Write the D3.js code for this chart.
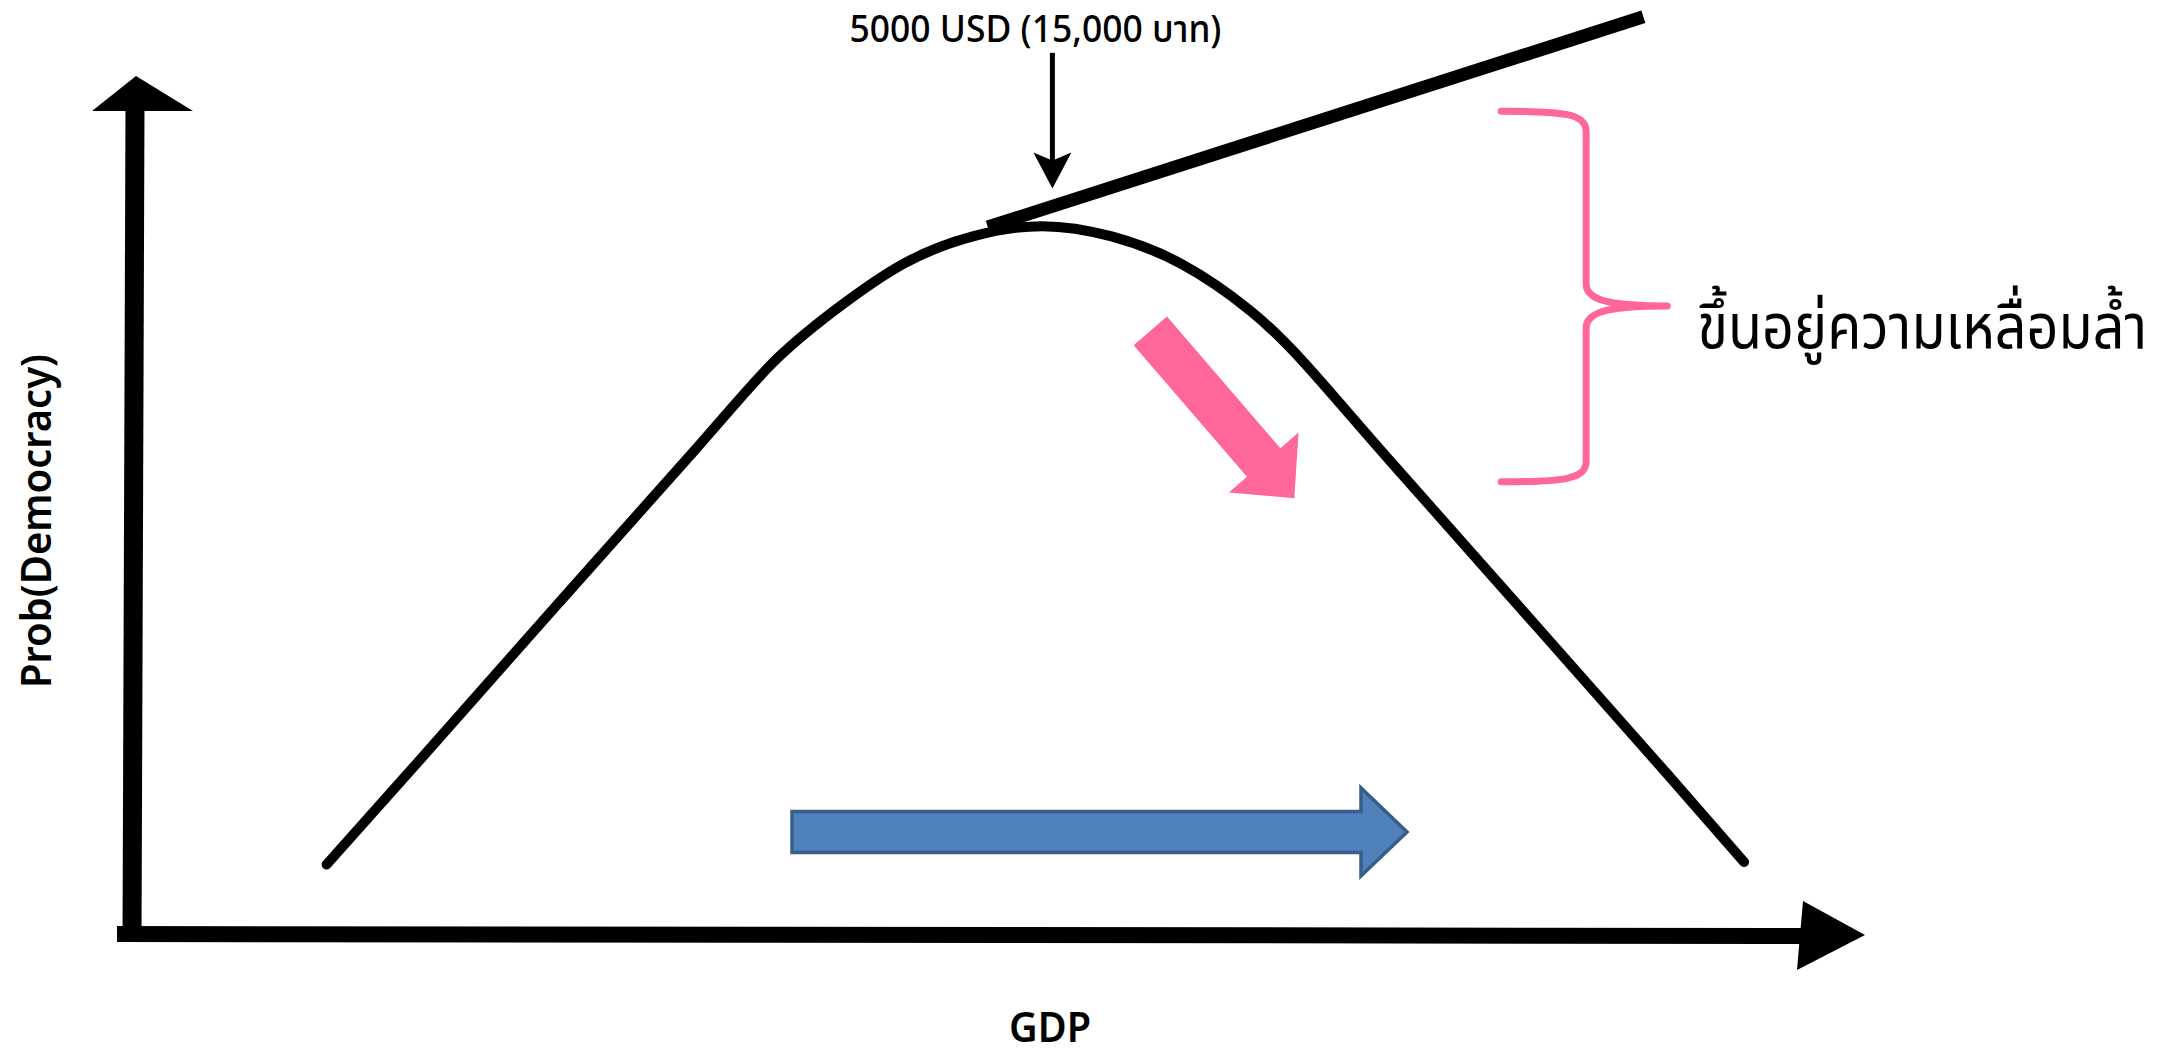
<!DOCTYPE html>
<html>
<head>
<meta charset="utf-8">
<script src="https://cdn.jsdelivr.net/npm/d3@7"></script>
<style>
  html, body { margin: 0; padding: 0; background: #ffffff; }
  svg { display: block; }
</style>
</head>
<body>
<svg id="chart" width="2179" height="1054"></svg>
<script>
// ---- data (GDP in thousand USD, probability of democracy) ----
const gdp  = [1.070, 1.559, 2.311, 3.064, 3.478, 3.816, 4.193, 4.569, 4.945, 5.321, 5.698, 6.074, 6.375, 6.826, 7.579, 8.331, 8.745];
const prob = [0.081, 0.199, 0.382, 0.564, 0.664, 0.726, 0.781, 0.813, 0.825, 0.813, 0.781, 0.726, 0.663, 0.552, 0.369, 0.186, 0.084];

// tangent line at the peak (gdp, prob)
const tangentGdp  = [4.65, 8.20];
const tangentProb = [0.824, 1.069];

// annotation anchors (gdp, prob)
const peakMarkerGdp = 5.0;
const peakMarkerProb = [1.027, 0.869];
const growthArrowGdp = [3.59, 6.92];
const growthArrowProb = 0.119;
const inequalityArrowGdp = [5.53, 6.31];
const inequalityArrowProb = [0.703, 0.508];
const braceGdp = [7.43, 7.89, 8.33];
const braceProb = [0.959, 0.732, 0.527];

// labels
const titleLabel = "5000 USD (15,000 บาท)";
const xLabel = "GDP";
const yLabel = "Prob(Democracy)";
const braceLabel = "ขึ้นอยู่ความเหลื่อมล้ำ";

// ---- scales ----
const x = d3.scaleLinear().domain([0, 9.4]).range([129, 1865]);
const y = d3.scaleLinear().domain([0, 1]).range([934, 76]);

const svg = d3.select("#chart");
svg.append("rect").attr("width", 2179).attr("height", 1054).attr("fill", "#fff");

// helper: text squeezed horizontally to a target width (keeps its height)
function fitText(str, tx, ty, rot, anchor, family, size, weight, target) {
  const t = svg.append("text")
    .attr("text-anchor", anchor)
    .attr("font-family", family)
    .attr("font-size", size).attr("font-weight", weight)
    .attr("fill", "#000")
    .text(str);
  const w = t.node().getComputedTextLength();
  const k = w > 0 ? Math.min(1.2, target / w) : 1;
  t.attr("transform", `translate(${tx},${ty}) rotate(${rot}) scale(${k},1)`);
  return t;
}

// ---- axes (arrows) ----
const axisG = svg.append("g");
axisG.append("line")
  .attr("x1", x(0) + 3).attr("y1", y(0) + 8)
  .attr("x2", x(0) + 6).attr("y2", y(1) + 30)
  .attr("stroke", "#000").attr("stroke-width", 19);
axisG.append("path")
  .attr("d", `M${x(0)+7},${y(1)} L${x(0)+64},${y(1)+35} L${x(0)-37},${y(1)+35} Z`)
  .attr("fill", "#000");
axisG.append("line")
  .attr("x1", x(0) - 12).attr("y1", y(0))
  .attr("x2", x(9.4) - 40).attr("y2", y(0) + 2)
  .attr("stroke", "#000").attr("stroke-width", 16);
axisG.append("path")
  .attr("d", `M${x(9.4)},${y(0)+1} L${x(9.4)-62},${y(0)-33} L${x(9.4)-68},${y(0)+36} Z`)
  .attr("fill", "#000");

// ---- curve ----
const pts = gdp.map((g, i) => [g, prob[i]]);
const line = d3.line().x(d => x(d[0])).y(d => y(d[1])).curve(d3.curveNatural);
svg.append("path")
  .attr("d", line(pts))
  .attr("fill", "none")
  .attr("stroke", "#000")
  .attr("stroke-width", 10)
  .attr("stroke-linejoin", "round")
  .attr("stroke-linecap", "round");

// ---- tangent line ----
svg.append("line")
  .attr("x1", x(tangentGdp[0])).attr("y1", y(tangentProb[0]))
  .attr("x2", x(tangentGdp[1])).attr("y2", y(tangentProb[1]))
  .attr("stroke", "#000").attr("stroke-width", 13);

// ---- peak marker arrow ----
const px = x(peakMarkerGdp), py0 = y(peakMarkerProb[0]), py1 = y(peakMarkerProb[1]);
svg.append("line")
  .attr("x1", px).attr("y1", py0).attr("x2", px).attr("y2", py1 - 25)
  .attr("stroke", "#000").attr("stroke-width", 5);
svg.append("path")
  .attr("d", `M${px},${py1} L${px-19},${py1-36} L${px},${py1-28} L${px+19},${py1-36} Z`)
  .attr("fill", "#000");

// ---- title label ----
fitText(titleLabel, px - 17, 42, 0, "middle", "'Noto Sans', 'Noto Sans Thai', sans-serif", 38, 500, 372);

// ---- blue growth arrow ----
const bx0 = x(growthArrowGdp[0]), bx1 = x(growthArrowGdp[1]), by = y(growthArrowProb);
const shaftH = 41, headH = 88, headL = 46;
svg.append("path")
  .attr("d", `M${bx0},${by - shaftH/2} L${bx1 - headL},${by - shaftH/2} L${bx1 - headL},${by - headH/2} L${bx1},${by} L${bx1 - headL},${by + headH/2} L${bx1 - headL},${by + shaftH/2} L${bx0},${by + shaftH/2} Z`)
  .attr("fill", "#4F81BD").attr("stroke", "#385D8A").attr("stroke-width", 3.5);

// ---- pink inequality arrow ----
const ax0 = x(inequalityArrowGdp[0]), ay0 = y(inequalityArrowProb[0]);
const ax1 = x(inequalityArrowGdp[1]), ay1 = y(inequalityArrowProb[1]);
const dx = ax1 - ax0, dy = ay1 - ay0, len = Math.hypot(dx, dy);
const ux = dx / len, uy = dy / len, nx = -uy, ny = ux;
const sw = 22, hw = 46, hl = 47;
const hbx = ax1 - ux * hl, hby = ay1 - uy * hl;
const pk = [
  [ax0 + nx * sw, ay0 + ny * sw],
  [hbx + nx * sw, hby + ny * sw],
  [hbx + nx * hw, hby + ny * hw],
  [ax1, ay1],
  [hbx - nx * hw, hby - ny * hw],
  [hbx - nx * sw, hby - ny * sw],
  [ax0 - nx * sw, ay0 - ny * sw]
];
svg.append("path")
  .attr("d", "M" + pk.map(p => p.join(",")).join("L") + "Z")
  .attr("fill", "#FF6699");

// ---- pink brace ----
const bL = x(braceGdp[0]), bM = x(braceGdp[1]), bT = x(braceGdp[2]);
const bTop = y(braceProb[0]), bMid = y(braceProb[1]), bBot = y(braceProb[2]);
const braceD = `M${bL},${bTop} C${bL+60},${bTop} ${bM},${bTop+2} ${bM},${bTop+20}
  L${bM},${bMid-22} C${bM},${bMid-4} ${bM+30},${bMid} ${bT},${bMid}
  C${bM+30},${bMid} ${bM},${bMid+4} ${bM},${bMid+22}
  L${bM},${bBot-20} C${bM},${bBot-2} ${bL+60},${bBot} ${bL},${bBot}`;
svg.append("path")
  .attr("d", braceD)
  .attr("fill", "none").attr("stroke", "#FF6699").attr("stroke-width", 7)
  .attr("stroke-linecap", "round").attr("stroke-linejoin", "round");

// ---- brace label ----
fitText(braceLabel, bT + 30, bMid + 42, 0, "start", "'Noto Sans Thai', 'Noto Sans', sans-serif", 62, 400, 450);

// ---- axis labels ----
fitText(xLabel, 1050, 1042, 0, "middle", "'Noto Sans', sans-serif", 42, 600, 82);
fitText(yLabel, 51, 521, -90, "middle", "'Noto Sans', sans-serif", 42, 600, 334);
</script>
</body>
</html>
